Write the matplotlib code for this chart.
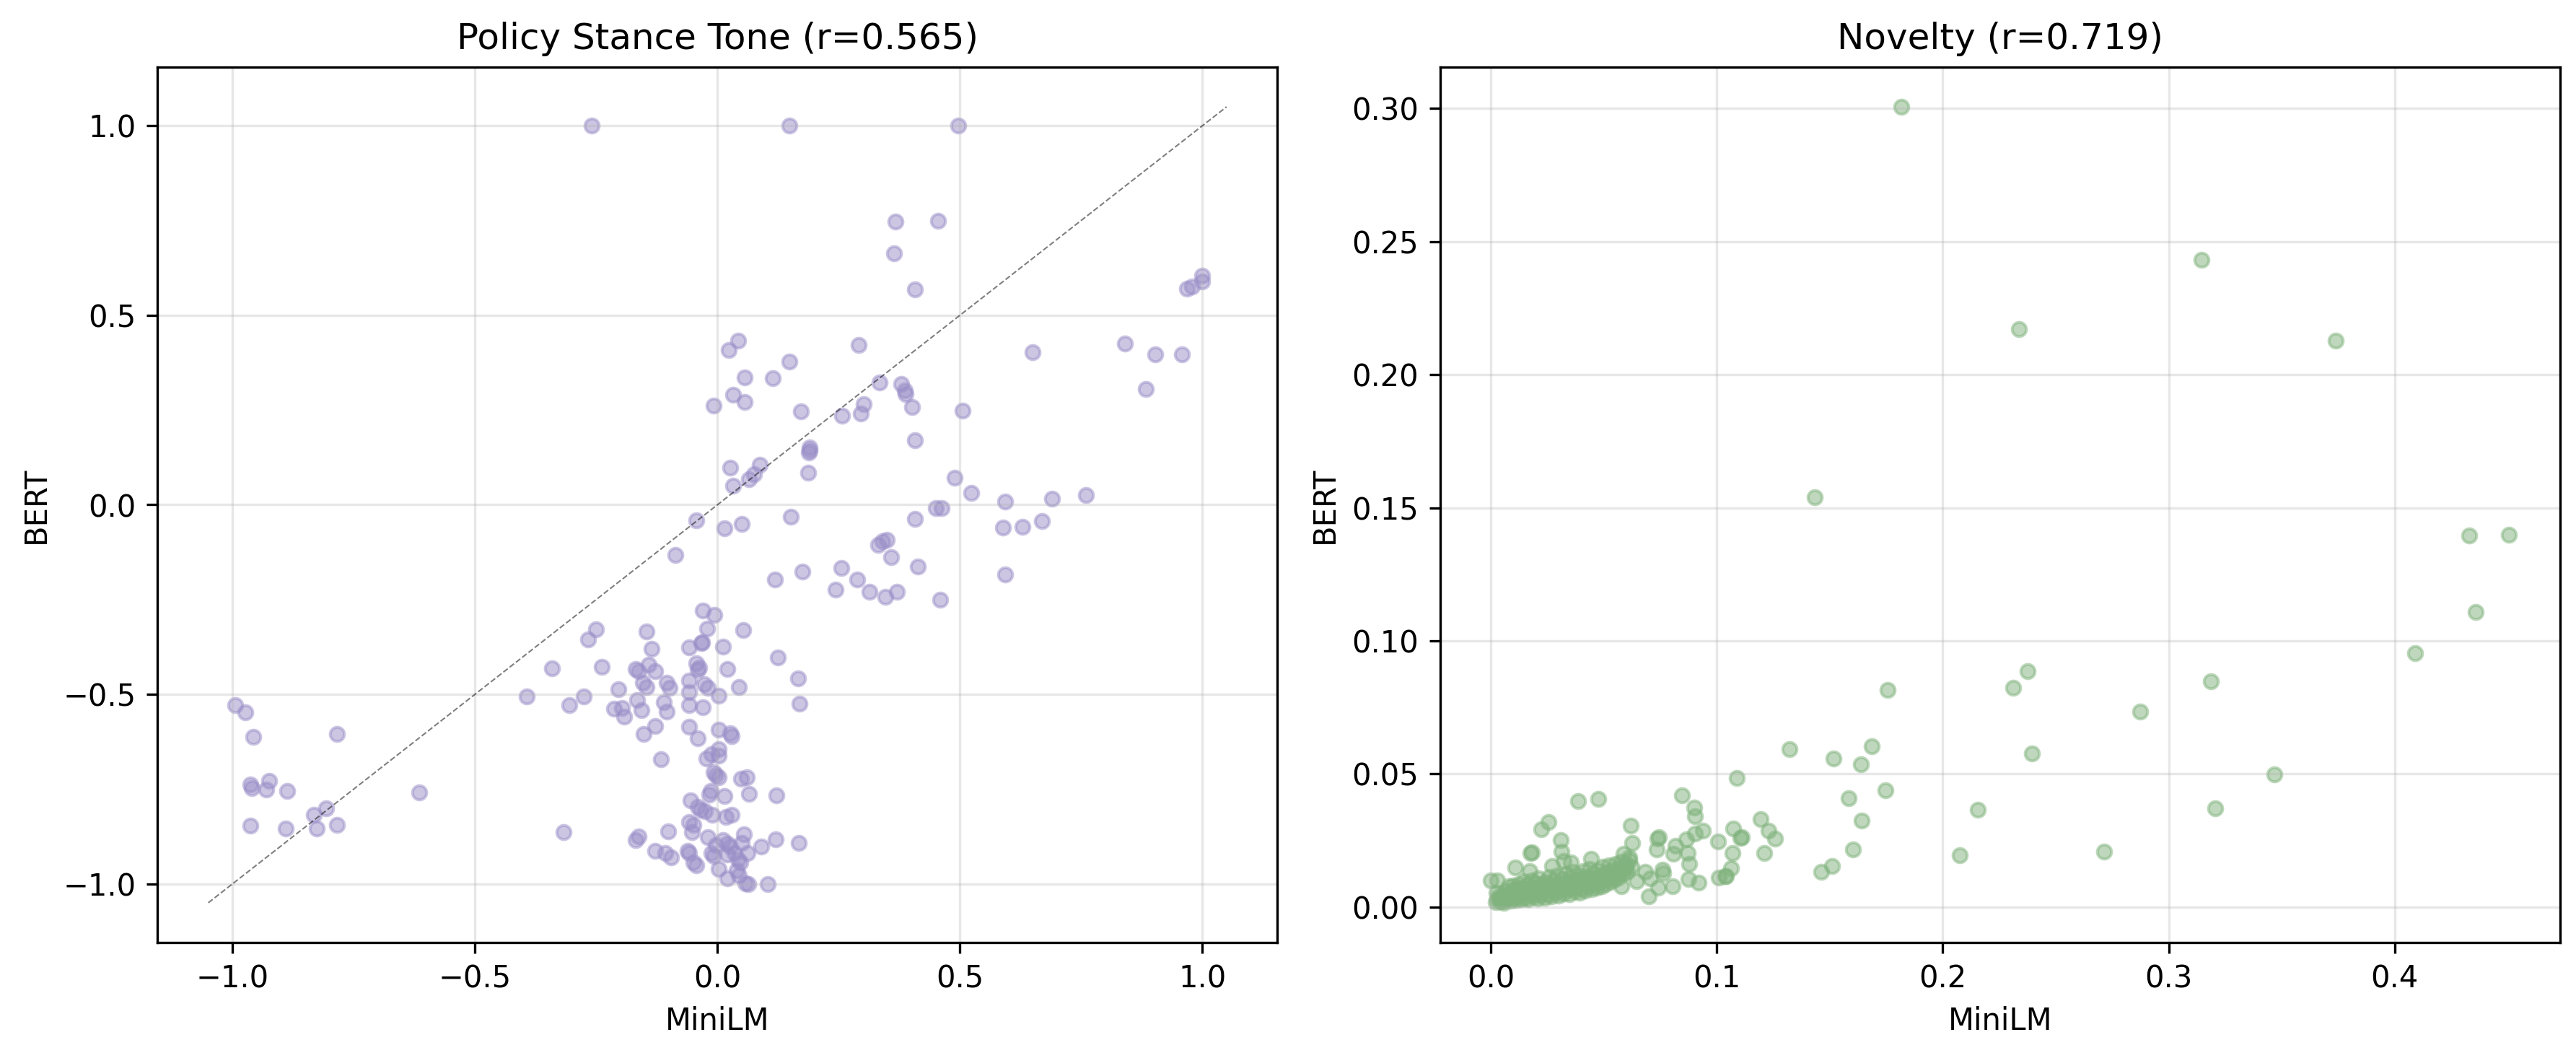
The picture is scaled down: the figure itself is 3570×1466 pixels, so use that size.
import matplotlib
matplotlib.use("Agg")
import matplotlib.pyplot as plt
import numpy as np

# ---------------- Policy Stance Tone ----------------
stance_pairs = [
    (-0.260, 1.000), (0.148, 1.000), (0.497, 1.000),
    (0.367, 0.748), (0.455, 0.749), (0.364, 0.664), (0.407, 0.569),
    (1.000, 0.604), (1.000, 0.590), (0.969, 0.571), (0.979, 0.575),
    (0.043, 0.433), (0.023, 0.409), (0.291, 0.421), (0.148, 0.377),
    (0.841, 0.426), (0.650, 0.402), (0.903, 0.396), (0.958, 0.396),
    (0.883, 0.306), (0.056, 0.336), (0.114, 0.334), (0.334, 0.322),
    (0.379, 0.319), (0.387, 0.302), (0.388, 0.292), (0.032, 0.291),
    (0.056, 0.272), (-0.008, 0.262), (0.302, 0.266), (0.296, 0.241),
    (0.257, 0.235), (0.172, 0.247), (0.401, 0.257), (0.506, 0.248),
    (0.408, 0.171), (0.190, 0.152), (0.190, 0.143), (0.189, 0.137),
    (0.026, 0.098), (0.088, 0.106), (0.076, 0.081), (0.065, 0.067),
    (0.187, 0.084), (0.032, 0.050), (0.489, 0.072), (0.524, 0.031),
    (0.594, 0.008), (0.690, 0.017), (0.760, 0.025), (0.451, -0.009),
    (0.462, -0.008), (-0.044, -0.041), (0.014, -0.062), (0.050, -0.051),
    (0.151, -0.032), (0.407, -0.038), (0.589, -0.061), (0.629, -0.059),
    (0.669, -0.042), (0.331, -0.105), (0.340, -0.097), (0.349, -0.093),
    (-0.087, -0.132), (0.358, -0.138),
    (0.256, -0.167), (0.175, -0.177), (0.119, -0.198), (0.413, -0.163),
    (0.594, -0.184), (0.289, -0.197), (0.244, -0.223), (0.314, -0.229),
    (0.347, -0.242), (0.370, -0.230), (0.460, -0.250),
    (-0.030, -0.279), (-0.006, -0.290), (-0.251, -0.329), (-0.267, -0.355),
    (-0.146, -0.335), (-0.021, -0.327), (0.053, -0.331), (-0.136, -0.380),
    (-0.058, -0.376), (-0.033, -0.365), (-0.031, -0.362), (0.011, -0.374),
    (0.125, -0.403),
    (-0.341, -0.432), (-0.239, -0.427), (-0.169, -0.433), (-0.163, -0.439),
    (-0.142, -0.421), (-0.129, -0.439), (-0.044, -0.418), (-0.038, -0.430),
    (-0.041, -0.435), (0.020, -0.433), (0.166, -0.458),
    (-0.058, -0.464), (-0.154, -0.470), (-0.146, -0.481), (-0.104, -0.470),
    (-0.099, -0.482), (-0.027, -0.473), (-0.020, -0.482), (0.044, -0.481),
    (-0.204, -0.487), (-0.393, -0.505), (-0.276, -0.505), (-0.306, -0.528),
    (-0.165, -0.515), (-0.058, -0.494), (0.002, -0.503), (-0.111, -0.521),
    (0.169, -0.525),
    (-0.213, -0.538), (-0.197, -0.536), (-0.192, -0.559), (-0.157, -0.542),
    (-0.104, -0.546), (-0.058, -0.528), (-0.030, -0.535),
    (-0.995, -0.528), (-0.973, -0.547), (-0.958, -0.612), (-0.784, -0.604),
    (-0.129, -0.584), (-0.152, -0.604), (-0.058, -0.586), (-0.041, -0.617),
    (0.002, -0.594), (0.026, -0.602), (0.030, -0.610),
    (0.003, -0.644), (-0.012, -0.658), (-0.023, -0.670), (0.003, -0.662),
    (-0.117, -0.672),
    (-0.008, -0.706), (-0.003, -0.713), (0.003, -0.719), (0.049, -0.723),
    (0.061, -0.719),
    (-0.963, -0.737), (-0.960, -0.747), (-0.925, -0.729), (-0.931, -0.751),
    (-0.888, -0.756), (-0.615, -0.758),
    (-0.014, -0.756), (-0.017, -0.764), (0.015, -0.769), (0.065, -0.762),
    (0.122, -0.767), (-0.056, -0.779),
    (-0.041, -0.796), (-0.034, -0.804), (-0.026, -0.809), (-0.011, -0.817),
    (0.018, -0.823), (0.030, -0.817),
    (-0.807, -0.801), (-0.833, -0.818), (-0.963, -0.846), (-0.890, -0.855),
    (-0.827, -0.855), (-0.784, -0.845), (-0.317, -0.864),
    (-0.059, -0.836), (-0.049, -0.845), (-0.052, -0.864), (-0.101, -0.862),
    (-0.169, -0.885), (-0.163, -0.875), (-0.020, -0.876), (0.055, -0.870),
    (0.012, -0.885), (0.020, -0.895), (0.050, -0.893), (0.091, -0.902),
    (0.120, -0.882), (0.168, -0.892),
    (-0.128, -0.914), (-0.107, -0.919), (-0.096, -0.931), (-0.062, -0.914),
    (-0.059, -0.919), (-0.049, -0.944), (-0.044, -0.951), (-0.012, -0.919),
    (-0.008, -0.927), (-0.003, -0.897), (0.027, -0.902),
    (0.020, -0.923), (0.035, -0.919), (0.043, -0.936), (0.047, -0.944),
    (0.062, -0.919),
    (0.002, -0.961), (0.040, -0.965), (0.044, -0.978), (0.020, -0.986),
    (0.058, -0.999), (0.064, -1.000), (0.104, -1.000),
]
stance_minilm = [p[0] for p in stance_pairs]
stance_bert = [p[1] for p in stance_pairs]

# ---------------- Novelty ----------------
novelty_pairs = [
    # outliers
    (0.1818, 0.3006), (0.3146, 0.2432), (0.2338, 0.2170), (0.3739, 0.2128),
    (0.1433, 0.1538), (0.4331, 0.1397), (0.4506, 0.1399), (0.4357, 0.1107),
    (0.4089, 0.0954), (0.3187, 0.0848), (0.2874, 0.0734), (0.3466, 0.0498),
    (0.3207, 0.0370), (0.2714, 0.0207),
    (0.1756, 0.0816), (0.2313, 0.0824), (0.2374, 0.0886), (0.2396, 0.0576),
    (0.1323, 0.0593), (0.1515, 0.0557), (0.1685, 0.0604), (0.1637, 0.0535),
    (0.1090, 0.0485), (0.1746, 0.0438), (0.1584, 0.0409), (0.1640, 0.0326),
    (0.2156, 0.0365), (0.2076, 0.0194), (0.1602, 0.0216), (0.1510, 0.0153),
    (0.1461, 0.0131), (0.1195, 0.0330), (0.1228, 0.0286), (0.1257, 0.0256),
    (0.1211, 0.0202), (0.1074, 0.0296), (0.1105, 0.0259), (0.1110, 0.0262),
    (0.1007, 0.0245), (0.1070, 0.0202), (0.1064, 0.0147), (0.1041, 0.0117),
    (0.1009, 0.0110), (0.1037, 0.0115),
    # middle region
    (0.0387, 0.0397), (0.0474, 0.0406), (0.0845, 0.0421), (0.0901, 0.0374),
    (0.0904, 0.0340), (0.0256, 0.0320), (0.0224, 0.0293), (0.0618, 0.0305),
    (0.0625, 0.0242), (0.0939, 0.0287), (0.0903, 0.0277), (0.0866, 0.0254),
    (0.0818, 0.0231), (0.0807, 0.0199), (0.0871, 0.0204), (0.0879, 0.0163),
    (0.0876, 0.0104), (0.0919, 0.0092), (0.0738, 0.0258),
    (0.0745, 0.0262), (0.0733, 0.0217), (0.0684, 0.0131), (0.0705, 0.0109),
    (0.0646, 0.0097), (0.0759, 0.0140), (0.0764, 0.0127), (0.0740, 0.0074),
    (0.0805, 0.0079), (0.0700, 0.0041), (0.0579, 0.0077), (0.0588, 0.0199),
    (0.0614, 0.0186), (0.0598, 0.0149), (0.0443, 0.0181), (0.0310, 0.0251),
    (0.0313, 0.0208), (0.0176, 0.0204), (0.0182, 0.0206), (0.0107, 0.0149),
    (0.0171, 0.0136), (0.0000, 0.0100), (0.0030, 0.0100), (0.0272, 0.0154),
    (0.0321, 0.0172), (0.0353, 0.0168),
    # dense band
    (0.0021, 0.0019), (0.0030, 0.0028), (0.0035, 0.0041), (0.0026, 0.0053),
    (0.0042, 0.0022), (0.0048, 0.0034),
    (0.0055, 0.0025), (0.0061, 0.0047), (0.0066, 0.0062), (0.0072, 0.0031),
    (0.0078, 0.0078), (0.0083, 0.0043), (0.0058, 0.0016), (0.0088, 0.0024),
    (0.0093, 0.0057), (0.0098, 0.0082), (0.0104, 0.0035), (0.0109, 0.0068),
    (0.0113, 0.0026), (0.0118, 0.0049), (0.0124, 0.0087), (0.0129, 0.0061),
    (0.0133, 0.0030),
    (0.0139, 0.0074), (0.0142, 0.0045), (0.0148, 0.0096), (0.0153, 0.0036),
    (0.0157, 0.0058), (0.0162, 0.0083), (0.0167, 0.0028), (0.0171, 0.0067),
    (0.0176, 0.0047), (0.0181, 0.0101),
    (0.0186, 0.0074), (0.0191, 0.0039), (0.0195, 0.0089), (0.0201, 0.0056),
    (0.0206, 0.0032), (0.0212, 0.0107), (0.0216, 0.0069), (0.0221, 0.0046),
    (0.0227, 0.0085), (0.0232, 0.0058), (0.0238, 0.0036),
    (0.0243, 0.0095), (0.0247, 0.0071), (0.0252, 0.0049), (0.0258, 0.0114),
    (0.0263, 0.0081), (0.0268, 0.0041), (0.0273, 0.0062), (0.0279, 0.0098),
    (0.0284, 0.0053), (0.0289, 0.0076), (0.0295, 0.0120),
    (0.0301, 0.0044), (0.0306, 0.0088), (0.0311, 0.0063), (0.0317, 0.0105),
    (0.0322, 0.0051), (0.0327, 0.0079), (0.0333, 0.0124), (0.0338, 0.0066),
    (0.0343, 0.0093), (0.0349, 0.0048), (0.0354, 0.0110),
    (0.0359, 0.0074), (0.0365, 0.0131), (0.0370, 0.0058), (0.0375, 0.0097),
    (0.0381, 0.0082), (0.0386, 0.0119), (0.0392, 0.0055), (0.0397, 0.0104),
    (0.0403, 0.0071), (0.0408, 0.0136), (0.0414, 0.0089),
    (0.0419, 0.0062), (0.0425, 0.0114), (0.0430, 0.0078), (0.0436, 0.0142),
    (0.0441, 0.0097), (0.0447, 0.0066), (0.0452, 0.0125), (0.0458, 0.0084),
    (0.0463, 0.0108), (0.0469, 0.0072), (0.0474, 0.0139),
    (0.0480, 0.0093), (0.0485, 0.0118), (0.0491, 0.0077), (0.0496, 0.0150),
    (0.0502, 0.0101), (0.0508, 0.0086), (0.0513, 0.0129), (0.0519, 0.0110),
    (0.0524, 0.0157), (0.0530, 0.0094), (0.0536, 0.0138),
    (0.0541, 0.0117), (0.0547, 0.0102), (0.0553, 0.0163), (0.0559, 0.0129),
    (0.0565, 0.0111), (0.0571, 0.0148), (0.0577, 0.0171), (0.0583, 0.0123),
    (0.0589, 0.0140), (0.0596, 0.0160), (0.0604, 0.0132), (0.0612, 0.0176),
    (0.0621, 0.0150),
]
novelty_minilm = [p[0] for p in novelty_pairs]
novelty_bert = [p[1] for p in novelty_pairs]

titles = ["Policy Stance Tone (r=0.565)", "Novelty (r=0.719)"]
colors = ["#9a8fc8", "#80b37d"]
diag = [-1.05, 1.05]

fig, axes = plt.subplots(1, 2, figsize=(11.9, 4.887), dpi=300)
fig.subplots_adjust(left=0.0611, right=0.9938, top=0.9366, bottom=0.1091, wspace=0.145)

ax = axes[0]
ax.scatter(stance_minilm, stance_bert, s=22, alpha=0.5, color=colors[0])
ax.plot(diag, diag, "k--", lw=0.5, alpha=0.5)
ax.set_title(titles[0])
ax.set_xlabel("MiniLM")
ax.set_ylabel("BERT")
ax.grid(True, alpha=0.3)

ax = axes[1]
ax.scatter(novelty_minilm, novelty_bert, s=22, alpha=0.5, color=colors[1])
ax.set_title(titles[1])
ax.set_xlabel("MiniLM")
ax.set_ylabel("BERT")
ax.grid(True, alpha=0.3)

fig.savefig("out.png", dpi=300)
